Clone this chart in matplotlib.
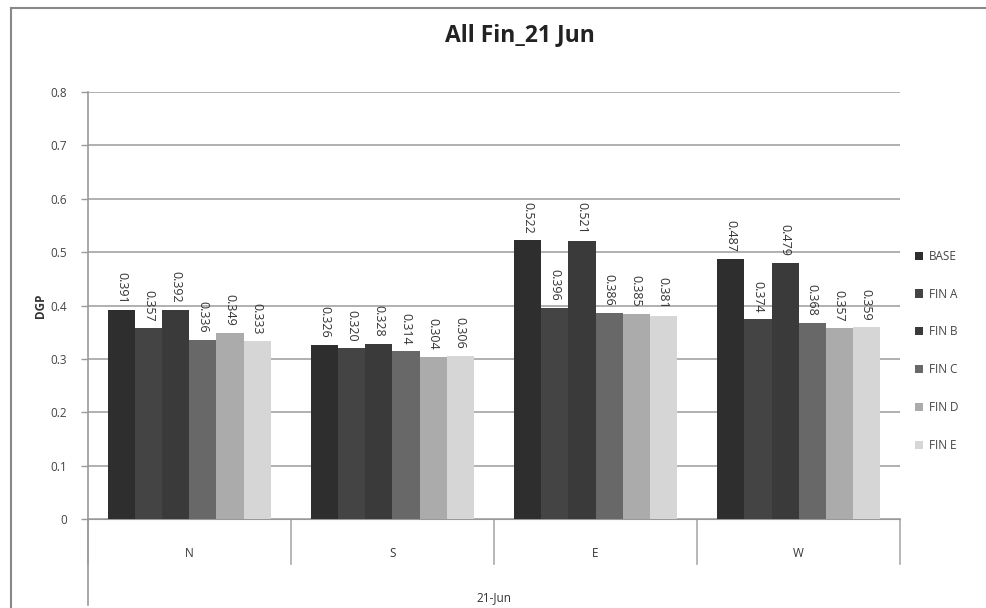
import numpy as np
import matplotlib.pyplot as plt

# data
directions = ['N', 'S', 'E', 'W']
series = ['BASE', 'FIN A', 'FIN B', 'FIN C', 'FIN D', 'FIN E']
base = [0.391, 0.326, 0.522, 0.487]
fin_a = [0.357, 0.320, 0.396, 0.374]
fin_b = [0.392, 0.328, 0.521, 0.479]
fin_c = [0.336, 0.314, 0.386, 0.368]
fin_d = [0.349, 0.304, 0.385, 0.357]
fin_e = [0.333, 0.306, 0.381, 0.359]
values = [base, fin_a, fin_b, fin_c, fin_d, fin_e]
colors = ['#2e2e2e', '#444444', '#3a3a3a', '#686868', '#ababab', '#d6d6d6']

plt.rcParams['font.family'] = ['Open Sans', 'DejaVu Sans']

fig = plt.figure(figsize=(9.87, 6.08), dpi=100)
ax = fig.add_axes([0.089, 0.146, 0.823, 0.703])

x = np.arange(len(directions))
w = 0.8 / len(series)
for i, (name, vals) in enumerate(zip(series, values)):
    pos = x - 0.4 + w / 2 + i * w
    bars = ax.bar(pos, vals, width=w, color=colors[i], label=name, zorder=3)
    for b, v in zip(bars, vals):
        ax.annotate(f'{v:.3f}', (b.get_x() + b.get_width() / 2, v),
                    xytext=(0, 5), textcoords='offset points',
                    rotation=270, ha='center', va='bottom',
                    fontsize=9, color='#333333')

ax.set_xlim(-0.5, 3.5)
ax.set_ylim(0, 0.8)
ax.set_yticks(np.arange(0, 0.81, 0.1))
ax.set_yticklabels(['0'] + [f'{t:.1f}' for t in np.arange(0.1, 0.81, 0.1)])
ax.yaxis.grid(True, color='#aaaaaa', linewidth=1.3, zorder=0)
ax.tick_params(axis='y', length=5, width=1, color='#999999', pad=10,
               labelsize=8.5, labelcolor='#444444')

ax.set_xticks(x)
ax.set_xticklabels(directions, fontsize=8.5, color='#333333')
ax.tick_params(axis='x', length=0, pad=20)

for s in ['top', 'right']:
    ax.spines[s].set_visible(False)
ax.spines['left'].set_color('#999999')
ax.spines['bottom'].set_color('#999999')
ax.spines['left'].set_linewidth(1.2)

# category separators below the axis
trans = ax.get_xaxis_transform()
for sx in [-0.5, 0.5, 1.5, 2.5, 3.5]:
    ax.plot([sx, sx], [0, -0.105], transform=trans, color='#aaaaaa',
            linewidth=1.2, clip_on=False)
ax.plot([-0.5, -0.5], [0, -0.2], transform=trans, color='#999999',
        linewidth=1.2, clip_on=False)

ax.set_xlabel('21-Jun', fontsize=8.5, color='#333333', labelpad=22)
ax.set_ylabel('DGP', fontsize=8.5, fontweight='bold', color='#333333', labelpad=2)

fig.text(0.527, 0.942, 'All Fin_21 Jun', ha='center', va='center',
         fontsize=16.5, fontweight='bold', color='#222222')

ax.legend(loc='upper left', bbox_to_anchor=(1.005, 0.655), frameon=False,
          handlelength=0.7, handleheight=0.7, handletextpad=0.5,
          labelspacing=2.1, fontsize=8.5, labelcolor='#444444')

# outer chart frame
fig.add_artist(plt.Line2D([0.011, 0.011], [0.0, 0.987], color='#888888', lw=1.5))
fig.add_artist(plt.Line2D([0.011, 1.0], [0.987, 0.987], color='#888888', lw=1.5))

plt.savefig('out.png')
